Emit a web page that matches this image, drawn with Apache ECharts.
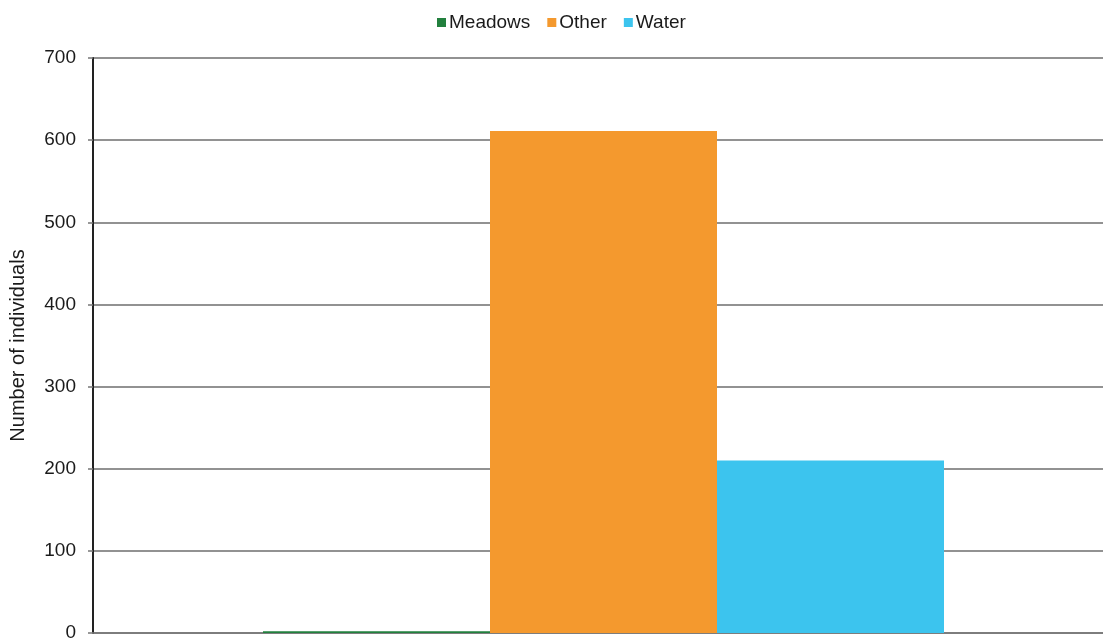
<!DOCTYPE html>
<html>
<head>
<meta charset="utf-8">
<style>
  html, body { margin: 0; padding: 0; background: #ffffff; }
  #chart { width: 1103px; height: 644px; }
</style>
<script src="https://cdn.jsdelivr.net/npm/echarts@6/dist/echarts.min.js"></script>
</head>
<body>
<div id="chart"></div>
<script>
// Number of individuals by habitat
const categories = [''];
const seriesNames = ['Meadows', 'Other', 'Water'];
const meadows = [2];
const other = [611];
const water = [210];
const yTicks = [0, 100, 200, 300, 400, 500, 600, 700];

const colors = ['#22803e', '#f4992e', '#3cc4ee'];
const values = [meadows, other, water];

const chart = echarts.init(document.getElementById('chart'), null, { renderer: 'canvas' });

const font = 'Liberation Sans, Arial, sans-serif';

chart.setOption({
  animation: false,
  backgroundColor: '#ffffff',
  legend: {
    top: 8,
    left: 432,
    itemWidth: 9,
    itemHeight: 9,
    itemGap: 17,
    icon: 'rect',
    textStyle: { fontFamily: font, fontSize: 19, color: '#1a1a1a', padding: [0, 0, 0, -2] },
    data: seriesNames
  },
  grid: {
    left: 93,
    top: 58,
    height: 575,
    width: 1021,
    containLabel: false,
    outerBoundsMode: 'none'
  },
  xAxis: {
    type: 'category',
    data: categories,
    axisLine: { show: true, lineStyle: { color: '#777777', width: 1.5 } },
    axisTick: { show: false },
    axisLabel: { show: false },
    splitLine: { show: false }
  },
  yAxis: {
    type: 'value',
    min: yTicks[0],
    max: yTicks[yTicks.length - 1],
    interval: 100,
    name: 'Number of individuals',
    nameLocation: 'middle',
    nameGap: 65,
    nameTextStyle: { fontFamily: font, fontSize: 20, color: '#1a1a1a' },
    axisLine: { show: true, lineStyle: { color: '#222222', width: 2 } },
    axisTick: { show: true, length: 5, lineStyle: { color: '#777777', width: 1.5 } },
    axisLabel: { fontFamily: font, fontSize: 19, color: '#1a1a1a', margin: 17, padding: [4, 0, 0, 0] },
    splitLine: { show: true, lineStyle: { color: '#6e6e6e', width: 1.5 } }
  },
  series: seriesNames.map((name, i) => ({
    name: name,
    type: 'bar',
    data: values[i],
    barWidth: 227,
    barGap: '0%',
    itemStyle: { color: colors[i] }
  }))
});
</script>
</body>
</html>
